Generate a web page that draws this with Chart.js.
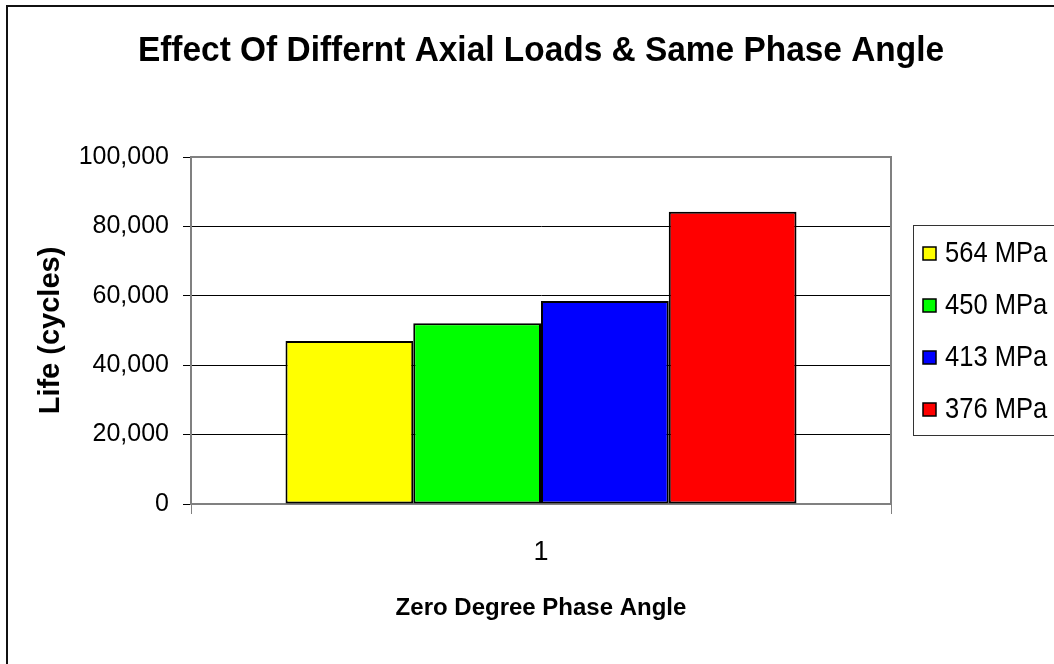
<!DOCTYPE html>
<html>
<head>
<meta charset="utf-8">
<script src="https://cdn.jsdelivr.net/npm/chart.js@4.4.1/dist/chart.umd.min.js"></script>
<style>
  html, body { margin: 0; padding: 0; background: #fff; }
  #wrap { width: 1054px; height: 664px; }
</style>
</head>
<body>
<div id="wrap"><canvas id="chart" width="1054" height="664"></canvas></div>
<script>
const categories = ['1'];
const seriesLabels = ['564 MPa', '450 MPa', '413 MPa', '376 MPa'];
const seriesValues = [[47000], [52100], [58500], [84200]];
const seriesColors = ['#ffff00', '#00ff00', '#0000ff', '#ff0000'];
const yTicks = [0, 20000, 40000, 60000, 80000, 100000];
const chartTitle = 'Effect Of Differnt Axial Loads & Same Phase Angle';
const xTitle = 'Zero Degree Phase Angle';
const yTitle = 'Life (cycles)';

const FONT = '"Liberation Sans", Arial, sans-serif';

// Excel-like frame, title and boxed legend drawn around the plot.
const framePlugin = {
  id: 'frame',
  beforeDraw(chart) {
    const ctx = chart.ctx;
    ctx.save();
    ctx.fillStyle = '#fff';
    ctx.fillRect(0, 0, chart.width, chart.height);
    ctx.restore();
  },
  afterDraw(chart) {
    const ctx = chart.ctx;
    const area = chart.chartArea;
    ctx.save();

    // plot area top / right edge
    ctx.strokeStyle = '#808080';
    ctx.lineWidth = 2;
    ctx.beginPath();
    ctx.moveTo(area.left, area.top);
    ctx.lineTo(area.right, area.top);
    ctx.lineTo(area.right, area.bottom);
    ctx.stroke();

    // outer chart border (cut off on the right and bottom)
    ctx.strokeStyle = '#111';
    ctx.lineWidth = 2;
    ctx.strokeRect(7, 6, 1100, 700);

    // title, slightly condensed like the original
    ctx.fillStyle = '#000';
    ctx.font = `bold 35px ${FONT}`;
    ctx.textAlign = 'center';
    ctx.textBaseline = 'middle';
    ctx.save();
    ctx.translate((area.left + area.right) / 2, 51);
    ctx.scale(0.955, 1);
    ctx.fillText(chartTitle, 0, 0);
    ctx.restore();

    // legend
    ctx.strokeStyle = '#333';
    ctx.lineWidth = 1;
    ctx.strokeRect(913.5, 225.5, 200, 210);
    ctx.textAlign = 'left';
    chart.data.datasets.forEach((ds, i) => {
      const cy = 253 + i * 52;
      ctx.fillStyle = ds.backgroundColor;
      ctx.fillRect(923, cy - 6, 13, 13);
      ctx.strokeStyle = '#000';
      ctx.lineWidth = 1.5;
      ctx.strokeRect(923, cy - 6, 13, 13);
      ctx.fillStyle = '#000';
      ctx.save();
      ctx.translate(945, cy + 1);
      ctx.scale(0.88, 1);
      ctx.font = `29px ${FONT}`;
      ctx.fillText(ds.label, 0, 0);
      ctx.restore();
    });
    ctx.restore();
  }
};

const datasets = seriesLabels.map((label, i) => ({
  label,
  data: seriesValues[i],
  backgroundColor: seriesColors[i],
  borderColor: '#000',
  borderWidth: 2,
  borderSkipped: false,
  categoryPercentage: 0.73,
  barPercentage: 1
}));

new Chart(document.getElementById('chart'), {
  type: 'bar',
  data: { labels: categories, datasets },
  options: {
    responsive: false,
    animation: false,
    devicePixelRatio: 1,
    layout: { padding: { left: 34, right: 163, top: 157, bottom: 41 } },
    plugins: {
      legend: { display: false },
      title: { display: false },
      tooltip: { enabled: false }
    },
    scales: {
      x: {
        offset: true,
        grid: { offset: true, drawOnChartArea: false, drawTicks: true, tickLength: 10, color: '#808080', lineWidth: 1 },
        border: { color: '#808080', width: 2 },
        ticks: { color: '#000', font: { family: FONT, size: 27 }, padding: 22 },
        title: { display: true, text: xTitle, color: '#000', font: { family: FONT, size: 24, weight: 'bold' }, padding: 0 },
        afterFit(scale) { scale.height = 664 - 41 - 504; }
      },
      y: {
        min: 0,
        max: 100000,
        afterBuildTicks(scale) { scale.ticks = yTicks.map(v => ({ value: v })); },
        grid: { color: '#000', lineWidth: 1, tickLength: 8, drawTicks: true },
        border: { color: '#808080', width: 2 },
        ticks: {
          color: '#000',
          font: { family: FONT, size: 25 },
          padding: 14,
          callback: v => Number(v).toLocaleString('en-US')
        },
        title: { display: true, text: yTitle, color: '#000', font: { family: FONT, size: 29, weight: 'bold' }, padding: 0 },
        afterFit(scale) { scale.width = 191 - 34; }
      }
    }
  },
  plugins: [framePlugin]
});
</script>
</body>
</html>
